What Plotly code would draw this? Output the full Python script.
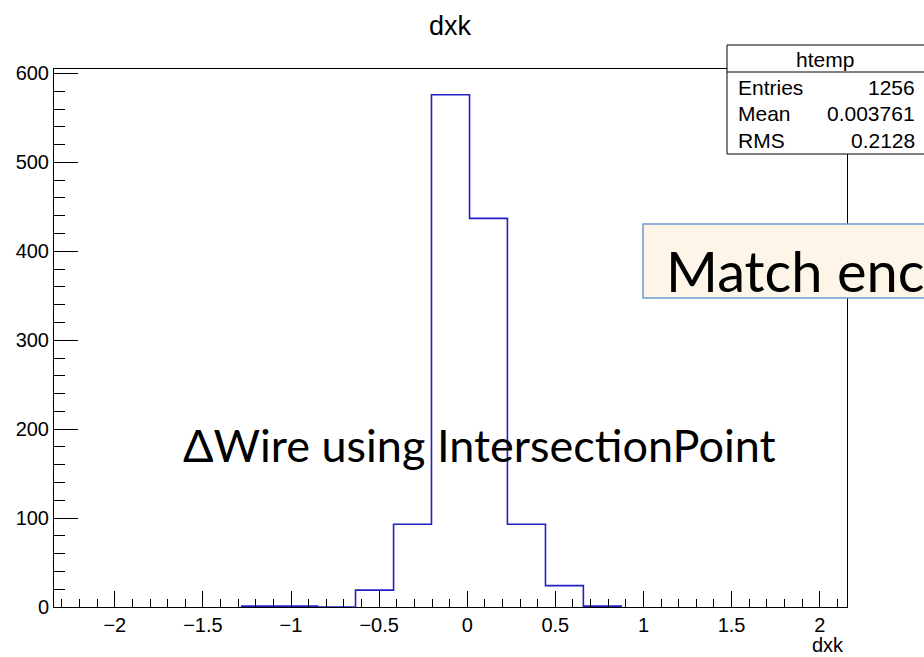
import plotly.graph_objects as go

# ---- data ----
bin_edges = [-1.280, -1.065, -0.849, -0.634, -0.418, -0.203, 0.013, 0.228, 0.444, 0.659, 0.874]
bin_counts = [1, 1, 0, 19, 93, 576, 437, 93, 24, 1]
x_tick_vals = [-2, -1.5, -1, -0.5, 0, 0.5, 1, 1.5, 2]
y_tick_vals = [0, 100, 200, 300, 400, 500, 600]
stat_labels = ["Entries", "Mean", "RMS"]
stat_values = ["1256", "0.003761", "0.2128"]
hist_name = "htemp"
var_name = "dxk"

# ---- layout geometry ----
W, H = 924, 657
L, R, T, B = 54, 77, 69, 50
PW, PH = W - L - R, H - T - B


def px(x):
    return (x - L) / PW


def py(y):
    return (H - B - y) / PH


step_x = [bin_edges[0]] + bin_edges
step_y = [0] + bin_counts + [0]

fig = go.Figure()
fig.add_trace(go.Scatter(
    x=step_x, y=step_y, mode="lines", line_shape="hv",
    line=dict(color="#2020c4", width=1.6), hoverinfo="skip", showlegend=False,
))

axis_font = dict(family="Liberation Sans, Arial, sans-serif", size=20, color="black")

fig.update_layout(
    width=W, height=H,
    margin=dict(l=L, r=R, t=T, b=B, pad=0),
    paper_bgcolor="white", plot_bgcolor="white",
    showlegend=False,
    xaxis=dict(
        range=[-2.345, 2.155], tickvals=x_tick_vals, ticks="inside", ticklen=16,
        tickcolor="black", tickwidth=1, showgrid=False, zeroline=False,
        showline=True, linecolor="black", linewidth=1, mirror=True,
        tickfont=axis_font,
        minor=dict(dtick=0.1, tick0=0, ticks="inside", ticklen=8, tickcolor="black", showgrid=False),
    ),
    yaxis=dict(
        range=[0, 605], tickvals=y_tick_vals, ticks="inside", ticklen=24,
        tickcolor="black", tickwidth=1, showgrid=False, zeroline=False,
        showline=True, linecolor="black", linewidth=1, mirror=True,
        tickfont=axis_font,
        minor=dict(dtick=20, tick0=0, ticks="inside", ticklen=11, tickcolor="black", showgrid=False),
    ),
)

shapes = [
    dict(type="rect", xref="paper", yref="paper", x0=px(727), x1=px(945), y0=py(154), y1=py(45),
         fillcolor="white", line=dict(color="black", width=1), layer="above"),
    dict(type="line", xref="paper", yref="paper", x0=px(727), x1=px(945), y0=py(72), y1=py(72),
         line=dict(color="black", width=1), layer="above"),
    dict(type="rect", xref="paper", yref="paper", x0=px(643), x1=px(945), y0=py(298), y1=py(224),
         fillcolor="#fdf6e8", line=dict(color="#6f9bd1", width=1.5), layer="above"),
]
fig.update_layout(shapes=shapes)

helv = "Liberation Sans, Arial, sans-serif"
gill = "Lato, Open Sans, sans-serif"
ann = []
ann.append(dict(text=var_name, x=px(450), y=py(26), xanchor="center", yanchor="middle",
                font=dict(family=helv, size=27, color="black")))
ann.append(dict(text=var_name, x=px(846), y=py(645), xanchor="right", yanchor="middle",
                font=dict(family=helv, size=20, color="black")))
ann.append(dict(text=hist_name, x=px(825), y=py(59), xanchor="center", yanchor="middle",
                font=dict(family=helv, size=21, color="black")))
row_y = [87, 113, 140]
for lab, val, yy in zip(stat_labels, stat_values, row_y):
    ann.append(dict(text=lab, x=px(736), y=py(yy), xanchor="left", yanchor="middle",
                    font=dict(family=helv, size=21, color="black")))
    ann.append(dict(text=val, x=px(917), y=py(yy), xanchor="right", yanchor="middle",
                    font=dict(family=helv, size=21, color="black")))
ann.append(dict(text="ΔWire using IntersectionPoint", x=px(181), y=py(445), xanchor="left", yanchor="middle",
                font=dict(family=gill, size=45, color="black")))
ann.append(dict(text="Match enc", x=px(664), y=py(270), xanchor="left", yanchor="middle",
                font=dict(family=gill, size=56, color="black")))
for a in ann:
    a.update(xref="paper", yref="paper", showarrow=False)
fig.update_layout(annotations=ann)

fig.write_html("out.html", config={"displayModeBar": False},
               post_script="document.body.style.margin='0px';document.body.style.overflow='hidden';")
